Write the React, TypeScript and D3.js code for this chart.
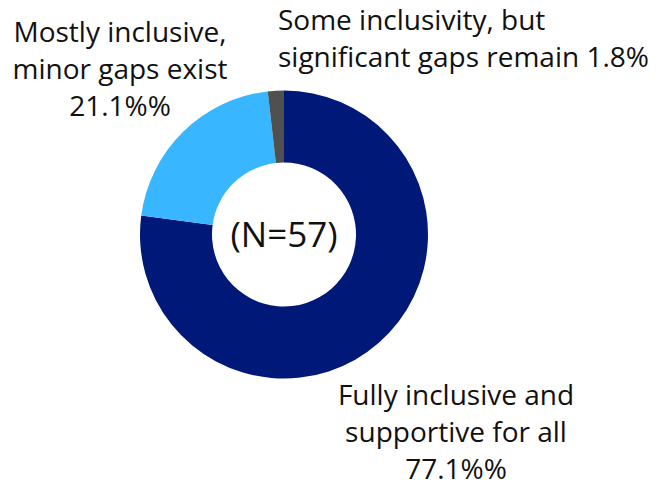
import React from "react";
import * as d3 from "d3";

const categories = [
  "Fully inclusive and supportive for all",
  "Mostly inclusive, minor gaps exist",
  "Some inclusivity, but significant gaps remain",
];
const values = [77.1, 21.1, 1.8];
const colors = ["#001978", "#38B6FF", "#505050"];
const labelLines = [
  ["Fully inclusive and", "supportive for all", "77.1%%"],
  ["Mostly inclusive,", "minor gaps exist", "21.1%%"],
  ["Some inclusivity, but", "significant gaps remain 1.8%"],
];
const centerText = "(N=57)";

const W = 663;
const H = 480;
const cx = 284;
const cy = 234.5;
const outerR = 144;
const innerR = 72;
const font = "'Open Sans', 'Noto Sans', sans-serif";

export default function App() {
  const pie = d3.pie<number>().sort(null).value((d) => d);
  const arcs = pie(values);
  const arc = d3.arc<d3.PieArcDatum<number>>().innerRadius(innerR).outerRadius(outerR);

  const labelPos = [
    { x: 456, y: 405, anchor: "middle" },
    { x: 120, y: 42, anchor: "middle" },
    { x: 278, y: 30, anchor: "start" },
  ];

  return (
    <svg width={W} height={H} style={{ position: "absolute", left: 0, top: 0, background: "#fff" }}>
      <g transform={`translate(${cx},${cy})`}>
        {arcs.map((a, i) => (
          <path key={categories[i]} d={arc(a) || ""} fill={colors[i]} />
        ))}
        <text x={0} y={12} textAnchor="middle" fontFamily={font} fontSize={35} fill="#111">
          {centerText}
        </text>
      </g>
      {labelLines.map((lines, i) => (
        <text key={i} fontFamily={font} fontSize={28} fill="#111" textAnchor={labelPos[i].anchor}>
          {lines.map((l, j) => (
            <tspan key={j} x={labelPos[i].x} y={labelPos[i].y + j * 37}>
              {l}
            </tspan>
          ))}
        </text>
      ))}
    </svg>
  );
}
